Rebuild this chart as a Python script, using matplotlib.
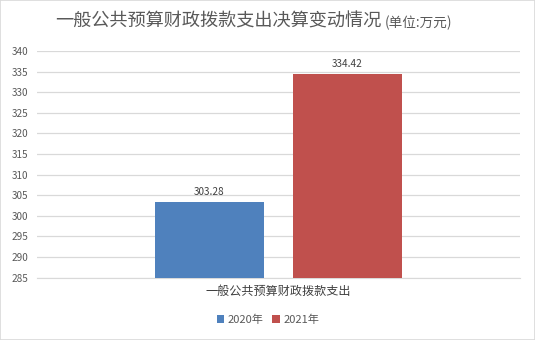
import matplotlib.pyplot as plt
from matplotlib.patches import Rectangle

plt.rcParams["font.family"] = ["Noto Sans CJK SC", "DejaVu Sans"]

category = "一般公共预算财政拨款支出"
years = ["2020年", "2021年"]
values = [303.28, 334.42]
colors = ["#4f81bd", "#c0504d"]
yticks = list(range(285, 341, 5))

W, H = 535, 340
fig = plt.figure(figsize=(W / 100, H / 100), dpi=100)
fig.patches.append(Rectangle((0, 0), 1, 1, transform=fig.transFigure,
                             fill=False, edgecolor="#d9d9d9", linewidth=1.2))

ax = fig.add_axes([37 / W, 1 - 277.5 / H, (520 - 37) / W, (277.5 - 51) / H])
offsets = [-0.143, 0.143]
width = 0.226
for i, (yr, v) in enumerate(zip(years, values)):
    ax.bar(offsets[i], v - 285, bottom=285, width=width, color=colors[i],
           label=yr, zorder=3)
    ax.text(offsets[i], v + 1.2, f"{v:.2f}", ha="center", va="bottom",
            fontsize=7.2, color="#404040")

ax.set_xlim(-0.5, 0.5)
ax.set_ylim(285, 340)
ax.set_yticks(yticks)
ax.tick_params(axis="y", length=0, labelsize=7.2, labelcolor="#595959", pad=6)
ax.set_xticks([0])
ax.set_xticklabels([category], fontsize=8.7, color="#404040")
ax.tick_params(axis="x", length=0, pad=5)
ax.grid(axis="y", color="#d9d9d9", linewidth=0.9, zorder=0)
for s in ["top", "right", "left"]:
    ax.spines[s].set_visible(False)
ax.spines["bottom"].set_color("#d9d9d9")

fig.text(55 / W, 1 - 22 / H, "一般公共预算财政拨款支出决算变动情况", fontsize=13.1,
         color="#595959", va="center", ha="left")
fig.text(385 / W, 1 - 23 / H, "(单位:万元)", fontsize=9.8,
         color="#595959", va="center", ha="left")

fig.legend(loc="center", bbox_to_anchor=(268 / W, 1 - 320 / H), ncol=2,
           frameon=False, fontsize=8, handlelength=0.7, handleheight=0.7,
           handletextpad=0.3, columnspacing=0.8, labelcolor="#595959")

fig.savefig("out.png", dpi=100)
